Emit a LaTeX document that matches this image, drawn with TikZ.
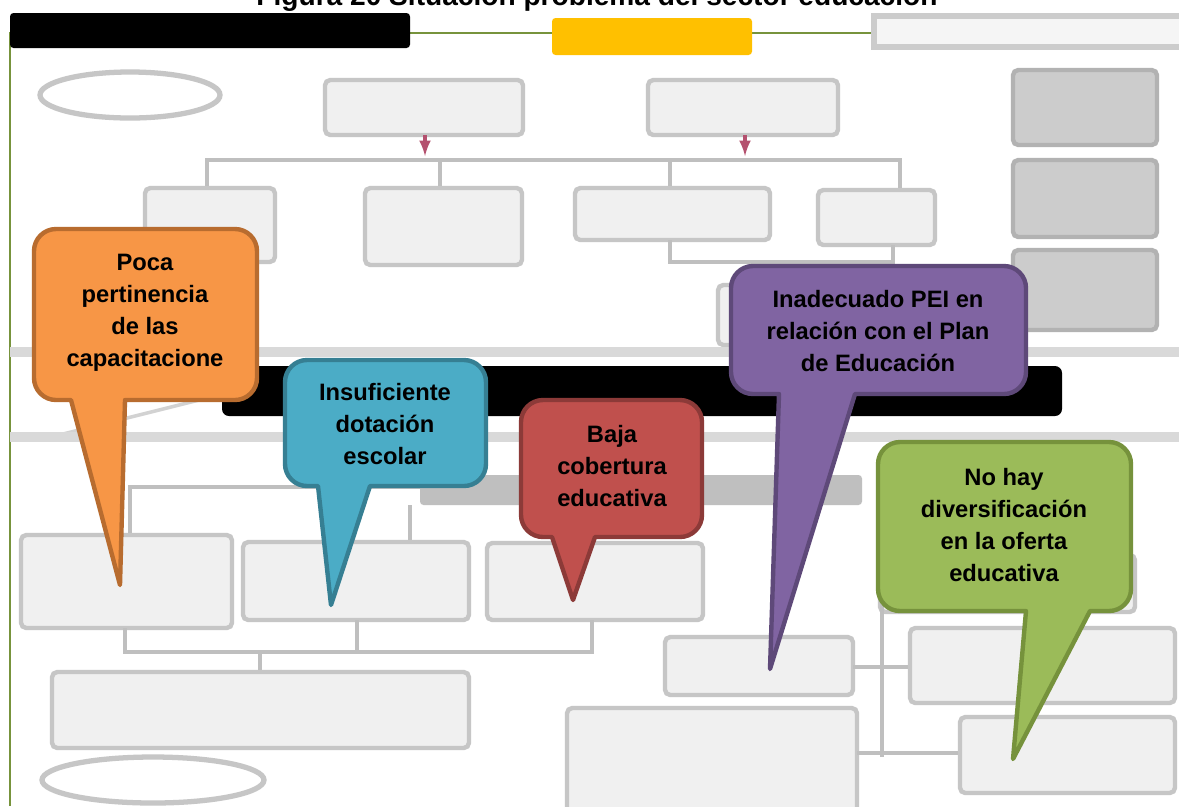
\documentclass[tikz,border=0pt]{standalone}
\usepackage{fontspec}
\setmainfont{Liberation Sans}
\usetikzlibrary{positioning}

\definecolor{naranja}{HTML}{F79646}
\definecolor{naranjaborde}{HTML}{B86C2F}
\definecolor{azul}{HTML}{4BACC6}
\definecolor{azulborde}{HTML}{367F93}
\definecolor{rojo}{HTML}{C0504D}
\definecolor{rojoborde}{HTML}{8C3A38}
\definecolor{morado}{HTML}{8064A2}
\definecolor{moradoborde}{HTML}{5E4979}
\definecolor{verde}{HTML}{9BBB59}
\definecolor{verdeborde}{HTML}{76923C}
\definecolor{marco}{HTML}{77933C}
\definecolor{dorado}{HTML}{FFC000}
\definecolor{flecharoja}{HTML}{B4506E}

\tikzset{
  fondo/.style={draw=gray!45, line width=2.5pt, fill=gray!12, rounded corners=3pt},
  fondooscuro/.style={draw=gray!60, line width=2.5pt, fill=gray!40, rounded corners=3pt},
  linea/.style={draw=gray!50, line width=2.5pt},
  banda/.style={draw=gray!30, line width=6pt},
  globo/.style={line width=2.5pt, line join=round, radius=0.44cm},
  texto/.style={font=\bfseries\fontsize{13.5}{18.2}\selectfont, align=center, inner sep=0pt},
}

\begin{document}
\begin{tikzpicture}[x=0.02cm, y=-0.02cm]
    \useasboundingbox (0,0) rectangle (1179,806);
    \fill[white] (0,0) rectangle (1179,806);

    % titulo (cortado arriba)
    \node[font=\bfseries\fontsize{16}{19}\selectfont, anchor=base] (titulo) at (597,5) {Figura 20 Situación problema del sector educación};

    % marco
    \draw[marco, line width=1.5pt] (10,806) -- (10,33) -- (1179,33);

    % fondo: encabezado
    \fill[black, rounded corners=2pt] (10,13) rectangle (410,48);
    \fill[dorado, rounded corners=2pt] (552,18) rectangle (752,55);
    \draw[draw=gray!40, line width=3pt, fill=gray!8] (874,16) rectangle (1185,47);

    % fondo: efectos
    \draw[draw=gray!45, line width=3pt] (130,95) ellipse (90 and 23);
    \draw[fondo] (325,80) rectangle (523,135);
    \draw[fondo] (648,80) rectangle (838,135);
    \draw[fondooscuro] (1013,70) rectangle (1157,145);
    \draw[fondooscuro] (1013,160) rectangle (1157,237);
    \draw[fondooscuro] (1013,250) rectangle (1157,330);
    \draw[flecharoja, line width=2pt, -latex] (425,135) -- (425,156);
    \draw[flecharoja, line width=2pt, -latex] (745,135) -- (745,156);
    \draw[linea] (207,188) -- (207,160) -- (900,160) -- (900,190);
    \draw[linea] (440,160) -- (440,188);
    \draw[linea] (670,160) -- (670,188);
    \draw[fondo] (145,188) rectangle (275,262);
    \draw[fondo] (365,188) rectangle (522,265);
    \draw[fondo] (575,188) rectangle (770,240);
    \draw[fondo] (818,190) rectangle (935,245);
    \draw[linea] (670,240) -- (670,262) -- (893,262) -- (893,245);
    \draw[fondo] (718,285) rectangle (1000,345);

    % fondo: problema central
    \draw[banda] (10,352) -- (1179,352);
    \fill[black, rounded corners=4pt] (222,366) rectangle (1062,416);
    \draw[draw=gray!35, line width=2pt] (55,436) -- (215,396);
    \draw[banda] (10,437) -- (1179,437);

    % fondo: causas
    \fill[gray!50, rounded corners=2pt] (420,475) rectangle (862,505);
    \draw[linea] (130,535) -- (130,487) -- (420,487);
    \draw[linea] (410,505) -- (410,542);
    \draw[fondo] (21,535) rectangle (232,628);
    \draw[fondo] (243,542) rectangle (469,620);
    \draw[fondo] (487,543) rectangle (703,620);
    \draw[linea] (125,628) -- (125,652) -- (592,652) -- (592,620);
    \draw[linea] (357,620) -- (357,652);
    \draw[linea] (260,652) -- (260,672);
    \draw[fondo] (52,672) rectangle (469,748);
    \draw[draw=gray!45, line width=3pt] (153,780) ellipse (111 and 23);
    \draw[fondo] (880,555) rectangle (1135,612);
    \draw[linea] (882,577) -- (882,757);
    \draw[fondo] (665,637) rectangle (853,695);
    \draw[fondo] (567,708) rectangle (857,815);
    \draw[linea] (853,667) -- (910,667);
    \draw[linea] (857,753) -- (960,753);
    \draw[fondo] (910,628) rectangle (1175,703);
    \draw[fondo] (960,717) rectangle (1175,793);

    % globos
    \draw[globo, fill=naranja, draw=naranjaborde] (71,400) -- (120,585) -- (125,400) -- (235,400)
        arc[start angle=270, end angle=360] -- (257,251) arc[start angle=0, end angle=90]
        -- (56,229) arc[start angle=90, end angle=180] -- (34,378) arc[start angle=180, end angle=270] -- cycle;
    \node[texto] (poca) at (145,313) {Poca\\pertinencia\\de las\\capacitacione};

    \draw[globo, fill=azul, draw=azulborde] (318,486) -- (331,605) -- (370,486) -- (464,486)
        arc[start angle=270, end angle=360] -- (486,382) arc[start angle=0, end angle=90]
        -- (307,360) arc[start angle=90, end angle=180] -- (285,464) arc[start angle=180, end angle=270] -- cycle;
    \node[texto] (dotacion) at (385,424) {Insuficiente\\dotación\\escolar};

    \draw[globo, fill=rojo, draw=rojoborde] (552,537) -- (573,600) -- (595,537) -- (680,537)
        arc[start angle=270, end angle=360] -- (702,422) arc[start angle=0, end angle=90]
        -- (543,400) arc[start angle=90, end angle=180] -- (521,515) arc[start angle=180, end angle=270] -- cycle;
    \node[texto] (cobertura) at (612,466) {Baja\\cobertura\\educativa};

    \draw[globo, fill=morado, draw=moradoborde] (779,394) -- (770,669) -- (855,394) -- (1004,394)
        arc[start angle=270, end angle=360] -- (1026,288) arc[start angle=0, end angle=90]
        -- (753,266) arc[start angle=90, end angle=180] -- (731,372) arc[start angle=180, end angle=270] -- cycle;
    \node[texto] (pei) at (878,331) {Inadecuado PEI en\\relación con el Plan\\de Educación};

    \draw[globo, fill=verde, draw=verdeborde] (1026,611) -- (1013,759) -- (1090,611) -- (1109,611)
        arc[start angle=270, end angle=360] -- (1131,464) arc[start angle=0, end angle=90]
        -- (900,442) arc[start angle=90, end angle=180] -- (878,589) arc[start angle=180, end angle=270] -- cycle;
    \node[texto] (oferta) at (1004,525) {No hay\\diversificación\\en la oferta\\educativa};
\end{tikzpicture}
\end{document}
